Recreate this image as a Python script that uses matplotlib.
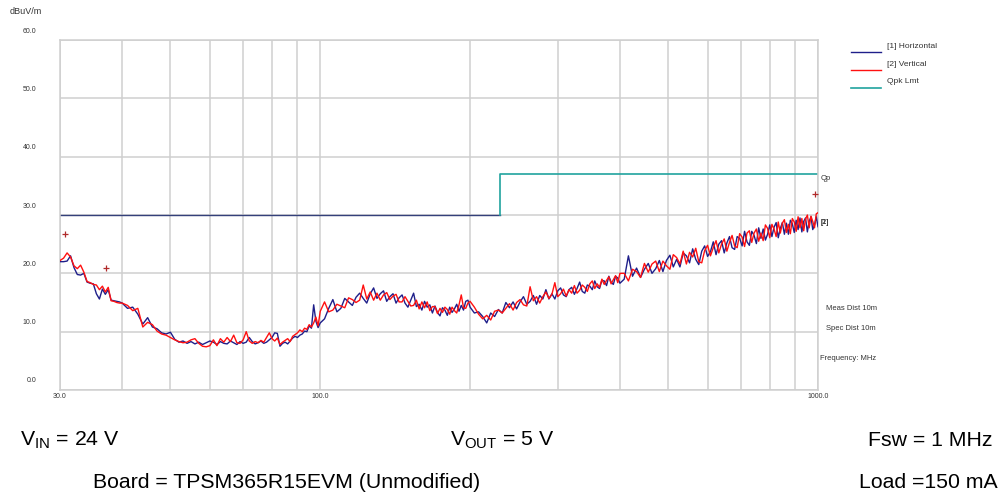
import matplotlib
matplotlib.use("Agg")
import matplotlib.pyplot as plt
from matplotlib.transforms import ScaledTranslation
from matplotlib.ticker import FixedLocator, NullFormatter

# sweep frequencies (MHz)
freq_mhz = [
    30.0, 30.5, 31.0, 31.5, 32.0, 32.5, 33.0, 33.5, 34.0, 34.5, 35.0, 35.5, 36.0, 36.5,
    37.0, 37.5, 38.0, 38.5, 39.0, 39.5, 40.0,
    41, 42, 43, 44, 45, 46, 47, 48, 49, 50, 51, 52, 53, 54, 55, 56, 57, 58, 59, 60,
    61, 62, 63, 64, 65, 66, 67, 68, 69, 70, 71, 72, 73, 74, 75, 76, 77, 78, 79, 80,
    81, 82, 83, 84, 85, 86, 87, 88, 89, 90, 91, 92, 93, 94, 95, 96, 97, 98, 99, 100,
    102, 104, 106, 108, 110, 112, 114, 116, 118, 120, 122, 124, 126, 128, 130, 132, 134,
    136, 138, 140, 142, 144, 146, 148, 150, 152, 154, 156, 158, 160, 162, 164, 166, 168,
    170, 172, 174, 176, 178, 180, 182, 184, 186, 188, 190, 192, 194, 196, 198, 200,
    204, 208, 212, 216, 220, 224, 228, 232, 236, 240, 244, 248, 252, 256, 260, 264, 268,
    272, 276, 280, 284, 288, 292, 296, 300, 304, 308, 312, 316, 320, 324, 328, 332, 336,
    340, 344, 348, 352, 356, 360, 364, 368, 372, 376, 380, 384, 388, 392, 396, 400,
    408, 416, 424, 432, 440, 448, 456, 464, 472, 480, 488, 496, 504, 512, 520, 528, 536,
    544, 552, 560, 568, 576, 584, 592, 600, 608, 616, 624, 632, 640, 648, 656, 664, 672,
    680, 688, 696, 704, 712, 720, 728, 736, 744, 752, 760, 768, 776, 784, 792, 800, 808,
    816, 824, 832, 840, 848, 856, 864, 872, 880, 888, 896, 904, 912, 920, 928, 936, 944,
    952, 960, 968, 976, 984, 992, 1000,
]

# [1] Horizontal (dBuV/m)
horizontal_db = [
    22.0, 22.0, 22.1, 23.0, 21.0, 19.8, 19.7, 20.0, 18.5, 18.3, 18.2, 16.5, 15.6, 17.3,
    16.4, 17.2, 15.4, 15.3, 15.2, 15.1, 14.9,
    14.0, 14.2, 13.0, 11.3, 12.4, 10.8, 10.5, 9.8, 9.6, 9.9, 8.7, 8.2, 8.4, 8.0, 8.3,
    7.9, 8.2, 7.8, 8.1, 8.4,
    8.2, 7.8, 8.3, 8.0, 7.9, 8.4, 8.1, 7.8, 8.3, 8.0, 8.2, 9.0, 8.3, 7.9, 8.1, 8.4,
    8.0, 8.2, 8.6, 9.0, 9.8, 9.7, 7.5, 8.0, 8.2, 7.9, 8.4, 8.9, 9.2, 9.0, 9.4, 9.6,
    10.1, 10.0, 11.0, 10.6, 14.6, 11.8, 10.7, 11.5,
    12.2, 14.0, 15.5, 13.4, 14.0, 15.7, 15.1, 14.5, 15.9, 16.6,
    15.7, 14.9, 16.5, 17.5, 15.7, 16.5, 17.0, 15.2, 16.0, 16.5,
    14.9, 15.8, 16.3, 14.9, 14.2, 15.4, 16.6, 14.3, 14.7, 13.7,
    15.2, 14.2, 14.6, 13.2, 14.4, 13.3, 12.7, 14.1, 13.7, 12.8,
    14.2, 13.3, 13.9, 14.7, 13.5, 14.5, 13.7, 15.2, 15.4, 14.2,
    13.2, 13.4, 12.6, 11.5, 13.2, 12.6, 13.8, 13.2, 15.0, 14.1,
    15.1, 13.9, 15.1, 16.0, 14.7, 15.2, 16.2, 14.7, 16.2, 15.6,
    17.2, 15.6, 16.5, 15.6, 17.0, 17.5, 16.3, 16.0, 17.2, 17.6,
    16.4, 17.4, 18.5, 16.9, 16.6, 18.0, 17.8, 17.2, 18.7, 17.7,
    17.4, 18.8, 18.7, 17.9, 19.5, 18.5, 18.1, 19.5, 19.2, 18.3,
    19.0, 23.0, 19.5, 20.9, 19.3, 20.7, 21.7, 20.0, 20.8, 22.2,
    20.3, 22.2, 23.1, 21.1, 22.4, 21.1, 23.5, 23.0, 21.8, 24.2,
    22.4, 21.5, 23.8, 24.7, 22.9, 23.7, 25.4, 23.2, 25.0, 25.6,
    23.5, 25.2, 26.3, 24.4, 24.1, 26.3, 26.0, 24.7, 27.2, 25.4,
    24.8, 27.2, 26.5, 25.1, 27.8, 26.0, 27.6, 25.7, 26.7, 28.3,
    26.3, 27.9, 28.7, 26.1, 27.7, 28.7, 26.7, 28.6, 26.7, 29.1,
    28.5, 27.0, 29.1, 27.5, 29.5, 27.1, 28.9, 29.5, 27.1, 28.9,
    29.7, 27.5, 28.3, 29.7, 28.0,
]

# [2] Vertical (dBuV/m)
vertical_db = [
    22.2, 22.6, 23.5, 22.8, 21.3, 20.8, 21.4, 20.2, 18.6, 18.4, 18.1, 18.0, 17.2, 17.8,
    16.8, 17.6, 15.3, 15.2, 15.0, 14.9, 14.9,
    14.5, 13.6, 14.0, 10.8, 11.6, 11.2, 10.1, 9.6, 9.4, 9.0, 8.6, 8.3, 8.1, 8.2, 8.6,
    8.8, 8.0, 7.5, 7.4, 7.6,
    8.6, 7.6, 8.8, 8.2, 9.0, 8.3, 9.4, 8.1, 8.0, 8.6, 10.0, 8.4, 8.0, 8.3, 8.1, 8.5,
    8.2, 9.0, 9.8, 8.8, 8.4, 8.9, 7.8, 8.2, 8.5, 8.8, 8.3, 9.2, 9.5, 9.8, 10.3, 10.0,
    10.6, 10.4, 11.2, 10.8, 11.5, 12.5, 11.0, 13.5,
    15.1, 13.4, 13.7, 14.7, 14.4, 14.1, 15.8, 15.5, 15.0, 15.4,
    18.0, 15.6, 16.8, 15.4, 16.6, 15.4, 16.3, 16.7, 15.5, 16.1,
    16.4, 15.1, 15.1, 16.0, 15.2, 14.4, 14.5, 15.4, 13.9, 15.1,
    14.1, 15.1, 13.6, 14.3, 14.3, 13.1, 14.0, 13.3, 14.2, 13.8,
    13.0, 14.2, 13.6, 13.2, 14.6, 16.3, 14.1, 14.0, 14.9, 15.2,
    14.2, 13.0, 12.2, 12.8, 12.0, 13.5, 13.7, 13.2, 14.0, 14.8,
    13.7, 15.0, 15.5, 14.6, 14.4, 17.7, 15.3, 16.0, 14.9, 16.0,
    16.8, 15.7, 16.4, 18.4, 16.0, 16.5, 17.3, 16.1, 17.2, 16.6,
    17.9, 16.6, 17.1, 18.0, 17.6, 16.9, 18.2, 18.7, 17.4, 18.2,
    17.6, 19.0, 18.1, 18.8, 19.4, 18.2, 18.9, 19.6, 18.4, 20.0,
    20.0, 18.7, 20.7, 20.3, 19.3, 21.7, 20.2, 21.6, 22.1, 20.3,
    22.1, 21.3, 20.7, 23.2, 22.7, 21.6, 23.8, 21.6, 23.6, 22.8,
    24.3, 22.0, 21.8, 23.9, 24.8, 23.0, 24.4, 25.6, 23.5, 25.0,
    25.9, 23.8, 25.3, 26.5, 24.7, 24.4, 26.8, 26.2, 24.6, 26.9,
    27.3, 25.3, 26.9, 27.6, 25.5, 26.9, 25.6, 28.3, 27.7, 26.1,
    28.4, 27.6, 26.3, 28.8, 26.9, 28.6, 29.2, 27.0, 28.4, 26.8,
    29.4, 28.8, 27.2, 29.7, 27.8, 29.4, 27.3, 29.3, 30.0, 27.8,
    29.8, 28.9, 27.8, 30.2, 30.4,
]

# quasi-peak limit (CISPR class B, 10 m)
limit_freq = [30, 230, 230, 1000]
limit_db = [30, 30, 37, 37]

# peak markers
peak_freq = [30.7, 37.2, 986]
peak_db = [26.8, 20.9, 33.6]

y_ticks = [0, 10, 20, 30, 40, 50, 60]
x_major = [30, 100, 1000]
x_minor = [40, 50, 60, 70, 80, 90, 200, 300, 400, 500, 600, 700, 800, 900]

assert len(freq_mhz) == len(horizontal_db) == len(vertical_db)

plt.rcParams["font.family"] = ["Liberation Sans", "DejaVu Sans"]

W, H = 1005, 498
fig = plt.figure(figsize=(W / 100, H / 100), dpi=100)
ax = fig.add_axes([60 / W, 1 - 390 / H, 758 / W, 350 / H])

grid_col = "#cfcfcf"
navy = "#1f1f8a"
teal = "#20a39e"
txt = "#333333"

ax.plot(freq_mhz, horizontal_db, color=navy, lw=1.0, label="[1] Horizontal", zorder=3)
ax.plot(freq_mhz, vertical_db, color="#ff1010", lw=1.0, label="[2] Vertical", zorder=4)
ax.plot(limit_freq[:2], limit_db[:2], color="#34407a", lw=1.0, zorder=2)
ax.plot(limit_freq[1:], limit_db[1:], color=teal, lw=1.2, label="Qpk Lmt", zorder=2)
ax.plot(peak_freq, peak_db, ls="none", marker="+", ms=4, mew=0.9, color="#b02a2a", zorder=5)

ax.set_xscale("log")
ax.set_xlim(30, 1000)
ax.set_ylim(0, 60)
ax.xaxis.set_major_locator(FixedLocator(x_major))
ax.xaxis.set_minor_locator(FixedLocator(x_minor))
ax.xaxis.set_minor_formatter(NullFormatter())
ax.set_xticklabels([f"{v:.1f}" for v in x_major])
ax.set_yticks(y_ticks)
ax.set_yticklabels([f"{v:.1f}" for v in y_ticks])
ax.tick_params(which="both", length=0, labelsize=5, labelcolor=txt)
ax.tick_params(axis="y", pad=17)
ax.tick_params(axis="x", pad=2)
for lbl in ax.get_yticklabels():
    lbl.set_transform(lbl.get_transform() + ScaledTranslation(0, 0.1, fig.dpi_scale_trans))

ax.grid(True, which="both", color=grid_col, lw=1.1)
ax.set_axisbelow(True)
for s in ax.spines.values():
    s.set_color(grid_col)
    s.set_linewidth(1.1)

leg = ax.legend(loc="upper left", bbox_to_anchor=(843 / W, 1 - 42 / H),
                bbox_transform=fig.transFigure, frameon=False, fontsize=6,
                handlelength=3.6, handletextpad=0.75, labelspacing=1.17)
for t in leg.get_texts():
    t.set_color(txt)
    t.set_transform(t.get_transform() + ScaledTranslation(0, 0.07, fig.dpi_scale_trans))

ax.annotate("Qp", xy=(1000, 37), xytext=(2, -3), textcoords="offset points",
            fontsize=5.5, va="center", color=txt)
ax.annotate("[1]", xy=(1000, 28.8), xytext=(2, 0), textcoords="offset points",
            fontsize=5.5, va="center", color=txt)
ax.annotate("[2]", xy=(1000, 28.8), xytext=(2, 0), textcoords="offset points",
            fontsize=5.5, va="center", color=txt)

ax.text(1.0106, 0.234, "Meas Dist 10m", transform=ax.transAxes, fontsize=5.5,
        va="center", color=txt)
ax.text(1.0106, 0.177, "Spec Dist 10m", transform=ax.transAxes, fontsize=5.5,
        va="center", color=txt)
ax.text(1.0026, 0.089, "Frequency: MHz", transform=ax.transAxes, fontsize=5.5,
        va="center", color=txt)

fig.text(26 / W, 1 - 11 / H, "dBuV/m", fontsize=6.5, ha="center", va="center", color=txt)

fs = 15.3
fig.text(20 / W, 1 - 440 / H, r"V$_{\mathregular{IN}}$ = 24 V", fontsize=fs, va="center")
fig.text(450 / W, 1 - 440 / H, r"V$_{\mathregular{OUT}}$ = 5 V", fontsize=fs, va="center")
fig.text(992 / W, 1 - 440 / H, "Fsw = 1 MHz", fontsize=fs, va="center", ha="right")
fig.text(93 / W, 1 - 482 / H, "Board = TPSM365R15EVM (Unmodified)", fontsize=fs, va="center")
fig.text(998 / W, 1 - 482 / H, "Load =150 mA", fontsize=fs, va="center", ha="right")

fig.savefig("out.png", dpi=100)
